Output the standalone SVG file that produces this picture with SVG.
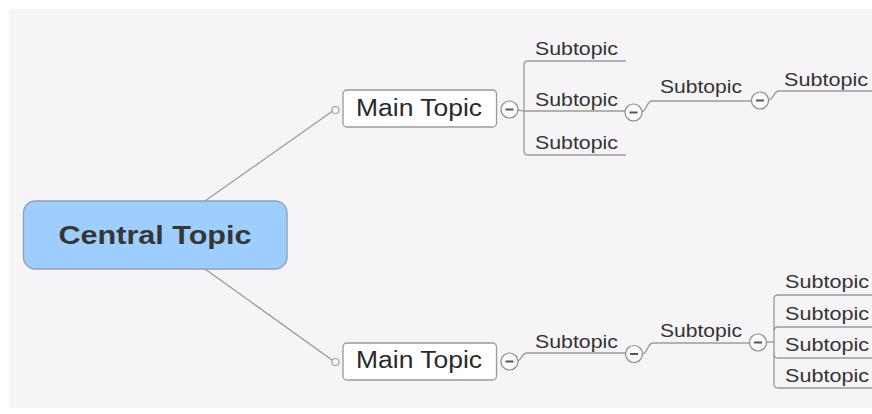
<svg xmlns="http://www.w3.org/2000/svg" width="872" height="414" viewBox="0 0 872 414">
<style>
.ln{fill:none;stroke:#9a9a9a;stroke-width:1.3}
.col{fill:#fbfbfb;stroke:#8a8a8a;stroke-width:1.2}
.minus{stroke:#555;stroke-width:2}
.dot{fill:#fff;stroke:#999;stroke-width:1.1}
.sub{font-family:"Liberation Sans",Arial,sans-serif;font-size:17.5px;fill:#333}
.main{font-family:"Liberation Sans",Arial,sans-serif;font-size:23px;fill:#2a2a2a}
.box{fill:#fff;stroke:#9a9a9a;stroke-width:1.3}
</style>
<defs>
<g id="collapse"><circle r="8.5" class="col"/><line x1="-4" y1="0" x2="4" y2="0" class="minus"/></g>
</defs>
<rect x="0" y="0" width="872" height="414" fill="#fff"/>
<rect x="9" y="9" width="863" height="399" fill="#f6f4f6"/>
<g id="connectors">
<path class="ln" d="M205,201 L332,111.5"/>
<path class="ln" d="M205,269 L332,360"/>
<path class="ln" d="M517,110 C521,110 521,111 524,111 L626,111"/>
<path class="ln" d="M528,61 Q524,61 524,65 L524,151 Q524,155 528,155"/>
<path class="ln" d="M528,61 L626,61"/>
<path class="ln" d="M528,155 L626,155"/>
<path class="ln" d="M641,112 C647,112 646,101 652,101 L752,101"/>
<path class="ln" d="M768,100 C774,100 773,91 779,91 L872,91"/>
<path class="ln" d="M517,361 C522,361 521,353 527,353 L626,353"/>
<path class="ln" d="M642,354 C648,354 647,343 653,343 L750,343"/>
<path class="ln" d="M766,342 L774,342"/>
<path class="ln" d="M778,295 Q774,295 774,299 L774,384 Q774,388 778,388"/>
<path class="ln" d="M778,295 L872,295"/>
<path class="ln" d="M774,331 Q774,327 778,327 L872,327"/>
<path class="ln" d="M774,354 Q774,358 778,358 L872,358"/>
<path class="ln" d="M778,388 L872,388"/>
</g>
<g id="central">
<rect x="23.5" y="201" width="263.5" height="68" rx="12" fill="#9ecefd" stroke="#8aa0b4" stroke-width="1.3"/>
<text x="155" y="243.5" text-anchor="middle" font-family="Liberation Sans,Arial,sans-serif" font-size="26" font-weight="bold" fill="#363636" textLength="193" lengthAdjust="spacingAndGlyphs">Central Topic</text>
</g>
<g id="main1">
<circle cx="335.5" cy="110" r="3.5" class="dot"/>
<rect x="343" y="90" width="153.5" height="37" rx="4" class="box"/>
<text x="356" y="115.5" class="main" textLength="126" lengthAdjust="spacingAndGlyphs">Main Topic</text>
<use href="#collapse" x="509.5" y="109.5"/>
</g>
<g id="main2">
<circle cx="335.5" cy="362" r="3.5" class="dot"/>
<rect x="343" y="343" width="153.5" height="37" rx="4" class="box"/>
<text x="356" y="368" class="main" textLength="126" lengthAdjust="spacingAndGlyphs">Main Topic</text>
<use href="#collapse" x="509.5" y="361.5"/>
</g>
<g id="sub-a1"><text x="535" y="55" class="sub" textLength="83" lengthAdjust="spacingAndGlyphs">Subtopic</text></g>
<g id="sub-a2"><text x="535" y="106" class="sub" textLength="83" lengthAdjust="spacingAndGlyphs">Subtopic</text><use href="#collapse" x="633.5" y="112.5"/></g>
<g id="sub-a3"><text x="535" y="149" class="sub" textLength="83" lengthAdjust="spacingAndGlyphs">Subtopic</text></g>
<g id="sub-a2-1"><text x="660" y="93" class="sub" textLength="82" lengthAdjust="spacingAndGlyphs">Subtopic</text><use href="#collapse" x="760" y="100.5"/></g>
<g id="sub-a2-1-1"><text x="784" y="86" class="sub" textLength="84" lengthAdjust="spacingAndGlyphs">Subtopic</text></g>
<g id="sub-b1"><text x="535" y="348" class="sub" textLength="83" lengthAdjust="spacingAndGlyphs">Subtopic</text><use href="#collapse" x="634" y="354"/></g>
<g id="sub-b1-1"><text x="660" y="336.5" class="sub" textLength="82" lengthAdjust="spacingAndGlyphs">Subtopic</text><use href="#collapse" x="758" y="342.5"/></g>
<g id="sub-b1-1-1"><text x="785" y="288" class="sub" textLength="84" lengthAdjust="spacingAndGlyphs">Subtopic</text></g>
<g id="sub-b1-1-2"><text x="785" y="320" class="sub" textLength="84" lengthAdjust="spacingAndGlyphs">Subtopic</text></g>
<g id="sub-b1-1-3"><text x="785" y="351" class="sub" textLength="84" lengthAdjust="spacingAndGlyphs">Subtopic</text></g>
<g id="sub-b1-1-4"><text x="785" y="382" class="sub" textLength="84" lengthAdjust="spacingAndGlyphs">Subtopic</text></g>
</svg>
